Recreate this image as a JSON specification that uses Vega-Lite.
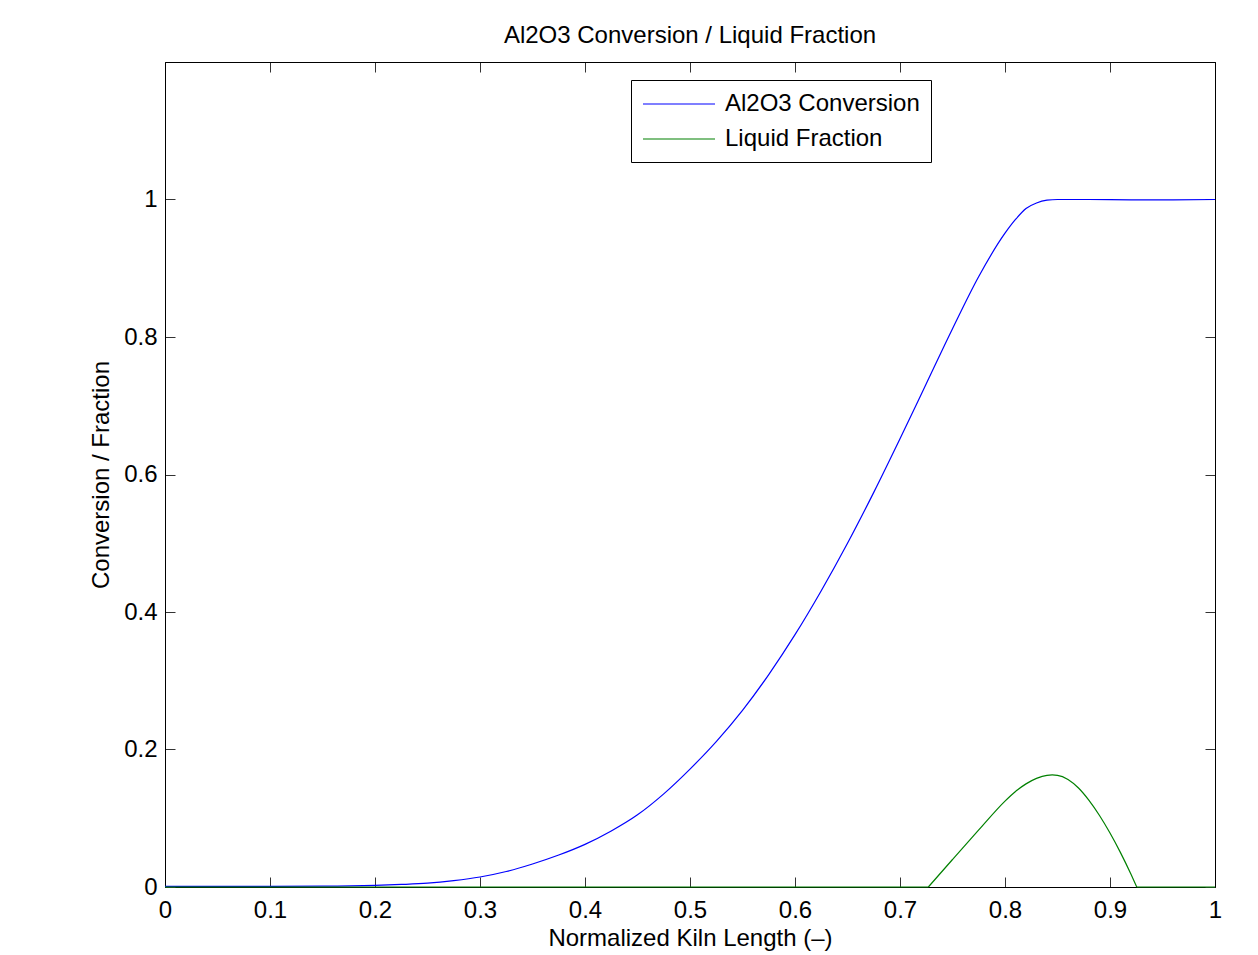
{
  "$schema": "https://vega.github.io/schema/vega-lite/v6.json",
  "autosize": {"type": "none"},
  "padding": {"left": 165, "top": 62, "right": 43, "bottom": 68},
  "width": 1050,
  "height": 825,
  "background": "white",
  "config": {
    "font": "Liberation Sans",
    "view": {"stroke": "black", "strokeWidth": 1},
    "axis": {"grid": false, "domainColor": "black", "tickColor": "#333", "tickSize": -10, "labelColor": "black", "titleColor": "black", "labelFontSize": 24, "titleFontSize": 24, "titleFontWeight": "normal", "labelFont": "Liberation Sans", "titleFont": "Liberation Sans", "labelFlush": false, "labelOverlap": false}
  },
  "title": {"text": "Al2O3 Conversion / Liquid Fraction", "fontSize": 24, "fontWeight": "normal", "font": "Liberation Sans", "color": "black", "offset": 14},
  "data": {"values": [
    {"x": 0.0, "y": 0.001, "s": "Al2O3 Conversion", "g": 1},
    {"x": 0.05, "y": 0.001, "s": "Al2O3 Conversion", "g": 1},
    {"x": 0.1, "y": 0.001, "s": "Al2O3 Conversion", "g": 1},
    {"x": 0.15, "y": 0.0013, "s": "Al2O3 Conversion", "g": 1},
    {"x": 0.2, "y": 0.0025, "s": "Al2O3 Conversion", "g": 1},
    {"x": 0.225, "y": 0.0037, "s": "Al2O3 Conversion", "g": 1},
    {"x": 0.25, "y": 0.0055, "s": "Al2O3 Conversion", "g": 1},
    {"x": 0.275, "y": 0.0092, "s": "Al2O3 Conversion", "g": 1},
    {"x": 0.3, "y": 0.0145, "s": "Al2O3 Conversion", "g": 1},
    {"x": 0.325, "y": 0.0225, "s": "Al2O3 Conversion", "g": 1},
    {"x": 0.35, "y": 0.0335, "s": "Al2O3 Conversion", "g": 1},
    {"x": 0.375, "y": 0.0465, "s": "Al2O3 Conversion", "g": 1},
    {"x": 0.4, "y": 0.062, "s": "Al2O3 Conversion", "g": 1},
    {"x": 0.425, "y": 0.0815, "s": "Al2O3 Conversion", "g": 1},
    {"x": 0.45, "y": 0.105, "s": "Al2O3 Conversion", "g": 1},
    {"x": 0.475, "y": 0.1355, "s": "Al2O3 Conversion", "g": 1},
    {"x": 0.5, "y": 0.1715, "s": "Al2O3 Conversion", "g": 1},
    {"x": 0.525, "y": 0.2115, "s": "Al2O3 Conversion", "g": 1},
    {"x": 0.55, "y": 0.257, "s": "Al2O3 Conversion", "g": 1},
    {"x": 0.575, "y": 0.309, "s": "Al2O3 Conversion", "g": 1},
    {"x": 0.6, "y": 0.367, "s": "Al2O3 Conversion", "g": 1},
    {"x": 0.625, "y": 0.431, "s": "Al2O3 Conversion", "g": 1},
    {"x": 0.65, "y": 0.5, "s": "Al2O3 Conversion", "g": 1},
    {"x": 0.675, "y": 0.574, "s": "Al2O3 Conversion", "g": 1},
    {"x": 0.7, "y": 0.652, "s": "Al2O3 Conversion", "g": 1},
    {"x": 0.725, "y": 0.732, "s": "Al2O3 Conversion", "g": 1},
    {"x": 0.75, "y": 0.812, "s": "Al2O3 Conversion", "g": 1},
    {"x": 0.775, "y": 0.888, "s": "Al2O3 Conversion", "g": 1},
    {"x": 0.8, "y": 0.951, "s": "Al2O3 Conversion", "g": 1},
    {"x": 0.81, "y": 0.971, "s": "Al2O3 Conversion", "g": 1},
    {"x": 0.82, "y": 0.987, "s": "Al2O3 Conversion", "g": 1},
    {"x": 0.83, "y": 0.995, "s": "Al2O3 Conversion", "g": 1},
    {"x": 0.84, "y": 0.999, "s": "Al2O3 Conversion", "g": 1},
    {"x": 0.85, "y": 1.0, "s": "Al2O3 Conversion", "g": 1},
    {"x": 0.88, "y": 1.0, "s": "Al2O3 Conversion", "g": 1},
    {"x": 0.92, "y": 0.9995, "s": "Al2O3 Conversion", "g": 1},
    {"x": 0.96, "y": 0.9995, "s": "Al2O3 Conversion", "g": 1},
    {"x": 1.0, "y": 1.0, "s": "Al2O3 Conversion", "g": 1},
    {"x": 0.0, "y": 0.0, "s": "Liquid Fraction", "g": 2},
    {"x": 0.727, "y": 0.0, "s": "Liquid Fraction", "g": 2},
    {"x": 0.727, "y": 0.0, "s": "Liquid Fraction", "g": 3},
    {"x": 0.75, "y": 0.04, "s": "Liquid Fraction", "g": 3},
    {"x": 0.775, "y": 0.083, "s": "Liquid Fraction", "g": 3},
    {"x": 0.8, "y": 0.125, "s": "Liquid Fraction", "g": 3},
    {"x": 0.81, "y": 0.139, "s": "Liquid Fraction", "g": 3},
    {"x": 0.82, "y": 0.15, "s": "Liquid Fraction", "g": 3},
    {"x": 0.83, "y": 0.158, "s": "Liquid Fraction", "g": 3},
    {"x": 0.84, "y": 0.1625, "s": "Liquid Fraction", "g": 3},
    {"x": 0.845, "y": 0.163, "s": "Liquid Fraction", "g": 3},
    {"x": 0.85, "y": 0.1625, "s": "Liquid Fraction", "g": 3},
    {"x": 0.86, "y": 0.1565, "s": "Liquid Fraction", "g": 3},
    {"x": 0.87, "y": 0.144, "s": "Liquid Fraction", "g": 3},
    {"x": 0.88, "y": 0.126, "s": "Liquid Fraction", "g": 3},
    {"x": 0.89, "y": 0.104, "s": "Liquid Fraction", "g": 3},
    {"x": 0.9, "y": 0.0785, "s": "Liquid Fraction", "g": 3},
    {"x": 0.91, "y": 0.05, "s": "Liquid Fraction", "g": 3},
    {"x": 0.92, "y": 0.0185, "s": "Liquid Fraction", "g": 3},
    {"x": 0.9255, "y": 0.0, "s": "Liquid Fraction", "g": 3},
    {"x": 0.9255, "y": 0.0, "s": "Liquid Fraction", "g": 4},
    {"x": 1.0, "y": 0.0, "s": "Liquid Fraction", "g": 4}
  ]},
  "layer": [
    {
      "mark": {"type": "line", "strokeWidth": 1.2, "interpolate": "monotone"},
      "encoding": {
        "x": {"field": "x", "type": "quantitative", "scale": {"domain": [0, 1], "nice": false, "zero": false},
              "axis": {"orient": "bottom", "values": [0, 0.1, 0.2, 0.3, 0.4, 0.5, 0.6, 0.7, 0.8, 0.9, 1], "format": "~g", "labelPadding": 21, "title": "Normalized Kiln Length (–)", "titlePadding": 4}},
        "y": {"field": "y", "type": "quantitative", "scale": {"domain": [0, 1.2], "nice": false},
              "axis": {"orient": "left", "values": [0, 0.2, 0.4, 0.6, 0.8, 1], "format": "~g", "labelPadding": 18, "title": "Conversion / Fraction", "titlePadding": 10}},
        "detail": {"field": "g", "type": "nominal"},
        "color": {"field": "s", "type": "nominal",
                  "scale": {"domain": ["Al2O3 Conversion", "Liquid Fraction"], "range": ["#0000ff", "#008000"]},
                  "legend": {"orient": "none", "legendX": 466, "legendY": 18, "title": null, "symbolType": "M-1,0H5", "symbolSize": 576, "symbolStrokeWidth": 1.2, "labelFontSize": 24, "labelFont": "Liberation Sans", "labelColor": "black", "labelLimit": 400, "labelOffset": 57, "padding": 11, "rowPadding": 10, "strokeColor": "black", "fillColor": "white", "cornerRadius": 0}}
      }
    },
    {
      "mark": {"type": "line", "opacity": 0},
      "encoding": {
        "x": {"field": "x", "type": "quantitative",
              "axis": {"orient": "top", "values": [0, 0.1, 0.2, 0.3, 0.4, 0.5, 0.6, 0.7, 0.8, 0.9, 1], "labels": false, "title": null}},
        "y": {"field": "y", "type": "quantitative",
              "axis": {"orient": "right", "values": [0, 0.2, 0.4, 0.6, 0.8, 1], "labels": false, "title": null}}
      }
    }
  ],
  "resolve": {"axis": {"x": "independent", "y": "independent"}}
}
